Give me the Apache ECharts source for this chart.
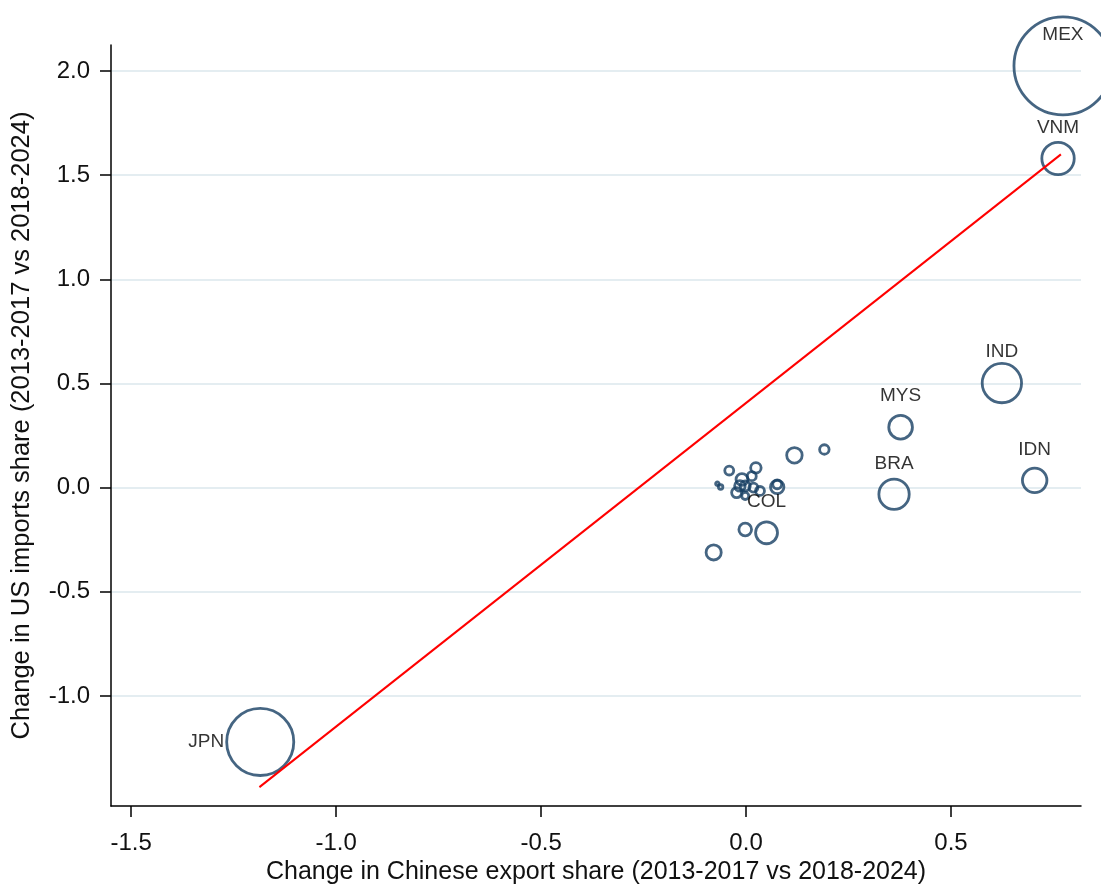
<!DOCTYPE html>
<html>
<head>
<meta charset="utf-8">
<script src="https://cdn.jsdelivr.net/npm/echarts@6/dist/echarts.min.js"></script>
<style>
  html, body { margin: 0; padding: 0; background: #fff; overflow: hidden; }
  #main { width: 1101px; height: 890px; }
</style>
</head>
<body>
<div id="main"></div>
<script>
// labelled countries
var names = ['MEX', 'VNM', 'JPN', 'IND', 'MYS', 'BRA', 'IDN', 'COL'];
var chinaX = [0.773, 0.761, -1.185, 0.624, 0.377, 0.361, 0.704, 0.050];
var usY = [2.025, 1.580, -1.221, 0.502, 0.290, -0.032, 0.035, -0.217];
var weight = [96, 10.5, 45, 15.5, 5.6, 9.2, 6.0, 4.8];

// the unlabelled ones
var otherX = [0.118, 0.191, -0.041, 0.024, -0.062, -0.070, -0.010, -0.015, -0.002, 0.014, -0.023, -0.002, 0.018, 0.034, 0.076, 0.076, -0.002, -0.079];
var otherY = [0.155, 0.183, 0.082, 0.095, 0.003, 0.019, 0.039, 0.008, 0.008, 0.055, -0.024, -0.040, 0.000, -0.016, 0.003, 0.016, -0.201, -0.311];
var otherW = [2.4, 0.9, 0.8, 1.1, 0.2, 0.12, 1.4, 1.1, 1.0, 0.8, 1.0, 0.5, 0.8, 0.8, 1.8, 0.8, 1.6, 2.3];

// fitted line
var fitX = [-1.187, 0.768];
var fitY = [-1.438, 1.600];

var xTicks = [-1.5, -1.0, -0.5, 0.0, 0.5];
var yTicks = [-1.0, -0.5, 0.0, 0.5, 1.0, 1.5, 2.0];

var font = 'Liberation Sans, Arial, sans-serif';
var navy = '#173f63';

var pts = [];
for (let i = 0; i < names.length; ++i) {
    let left = names[i] == 'JPN';
    pts.push({
        name: names[i],
        value: [chinaX[i], usY[i], weight[i]],
        label: {
            show: true,
            position: 'inside',
            align: left ? 'right' : 'center',
            verticalAlign: 'middle',
            offset: left ? [-36, 0] : [0, -31]
        }
    });
}
for (let i = 0; i < otherX.length; ++i) {
    pts.push({ value: [otherX[i], otherY[i], otherW[i]] });
}

var fitData = [];
for (let i = 0; i < fitX.length; ++i) {
    fitData.push([fitX[i], fitY[i]]);
}

var myChart = echarts.init(document.getElementById('main'));
var option = {
    animation: false,
    textStyle: { fontFamily: font },
    grid: { left: 111, width: 970, top: 45, height: 771, containLabel: false },
    xAxis: {
        type: 'value',
        min: -1.549,
        max: 0.817,
        name: 'Change in Chinese export share (2013-2017 vs 2018-2024)',
        nameLocation: 'middle',
        nameGap: 49,
        nameTextStyle: { fontSize: 25, color: '#111', fontFamily: font },
        axisLine: { show: true, onZero: false, lineStyle: { color: '#000', width: 1.5 } },
        axisTick: { show: true, length: 11, customValues: xTicks, lineStyle: { color: '#000', width: 1.5 } },
        axisLabel: {
            customValues: xTicks,
            margin: 25,
            fontSize: 24,
            color: '#111',
            fontFamily: font,
            formatter: function (v) { return v.toFixed(1); }
        },
        splitLine: { show: false }
    },
    yAxis: {
        type: 'value',
        min: -1.529,
        max: 2.125,
        name: 'Change in US imports share (2013-2017 vs 2018-2024)',
        nameLocation: 'middle',
        nameGap: 76,
        nameTextStyle: { fontSize: 25.5, color: '#111', fontFamily: font },
        axisLine: { show: true, onZero: false, lineStyle: { color: '#000', width: 1.5 } },
        axisTick: { show: true, length: 11, customValues: yTicks, lineStyle: { color: '#000', width: 1.5 } },
        axisLabel: {
            customValues: yTicks,
            margin: 21,
            fontSize: 24,
            color: '#111',
            fontFamily: font,
            formatter: function (v) { return v.toFixed(1); }
        },
        splitLine: { show: true, lineStyle: { color: '#e4edf1', width: 2 } }
    },
    series: [
        {
            type: 'scatter',
            data: pts,
            symbol: 'circle',
            symbolSize: function (v) { return 10 * Math.sqrt(v[2]); },
            itemStyle: { color: 'rgba(0,0,0,0)', borderColor: navy, borderWidth: 2.8 },
            label: { color: '#000', fontSize: 19, fontFamily: font, formatter: '{b}', textBorderWidth: 0 },
            emphasis: { disabled: true },
            clip: false,
            z: 2
        },
        {
            type: 'line',
            data: fitData,
            symbol: 'none',
            lineStyle: { color: '#ff0000', width: 2 },
            emphasis: { disabled: true },
            z: 3
        }
    ]
};
myChart.setOption(option);
</script>
</body>
</html>
